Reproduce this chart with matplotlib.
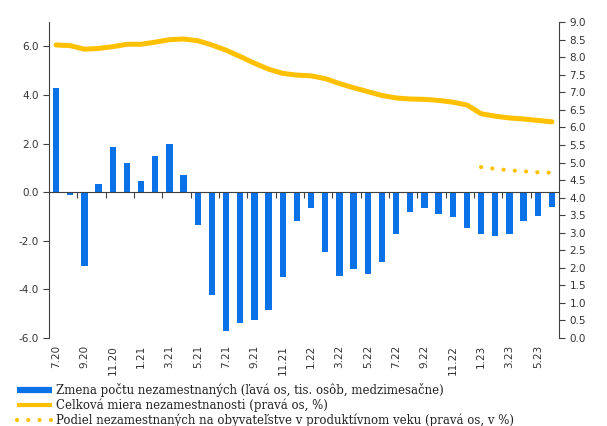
import numpy as np
import matplotlib
matplotlib.use("Agg")
import matplotlib.pyplot as plt
from matplotlib.lines import Line2D

months = ["7.20", "8.20", "9.20", "10.20", "11.20", "12.20",
          "1.21", "2.21", "3.21", "4.21", "5.21", "6.21",
          "7.21", "8.21", "9.21", "10.21", "11.21", "12.21",
          "1.22", "2.22", "3.22", "4.22", "5.22", "6.22",
          "7.22", "8.22", "9.22", "10.22", "11.22", "12.22",
          "1.23", "2.23", "3.23", "4.23", "5.23", "6.23"]

# zmena poctu nezamestnanych (tis. osob, medzimesacne) - lava os
zmena = [4.30, -0.12, -3.03, 0.34, 1.87, 1.20,
         0.46, 1.50, 1.99, 0.70, -1.35, -4.22,
         -5.72, -5.37, -5.26, -4.86, -3.51, -1.20,
         -0.67, -2.45, -3.43, -3.17, -3.37, -2.88,
         -1.73, -0.83, -0.67, -0.89, -1.01, -1.46,
         -1.73, -1.82, -1.73, -1.20, -0.97, -0.61]

# celkova miera nezamestnanosti (%) - prava os
miera = [8.35, 8.33, 8.23, 8.25, 8.30, 8.37,
         8.37, 8.43, 8.50, 8.52, 8.47, 8.35,
         8.20, 8.02, 7.83, 7.66, 7.54, 7.49,
         7.47, 7.39, 7.25, 7.13, 7.02, 6.91,
         6.84, 6.81, 6.80, 6.77, 6.72, 6.64,
         6.39, 6.32, 6.27, 6.24, 6.20, 6.16]

# podiel nezamestnanych na obyvatelstve v produktivnom veku (%) - od 1.23
podiel_start = 30
podiel = [4.87, 4.82, 4.78, 4.75, 4.72, 4.71]

BLUE = "#0A72E6"
YELLOW = "#FFC000"
GRAY = "#404040"

plt.rcParams["font.family"] = "DejaVu Sans"

fig = plt.figure(figsize=(6.07, 4.26), dpi=100)
ax = fig.add_axes([0.0807, 0.2066, 0.8403, 0.7414])
ax2 = ax.twinx()

x = np.arange(len(months))
ax.bar(x, zmena, width=0.45, color=BLUE, zorder=2)
ax2.plot(x, miera, color=YELLOW, lw=3.6, solid_capstyle="round", zorder=3)
xp = np.arange(podiel_start, podiel_start + len(podiel))
ax2.plot(xp, podiel, color=YELLOW, lw=3, dashes=(0.01, 2.7),
         dash_capstyle="round", zorder=3)

ax.set_xlim(-0.5, len(months) - 0.5)
ax.set_ylim(-6, 7)
ax.set_yticks(np.arange(-6, 7, 2))
ax.set_yticklabels([f"{v:.1f}" for v in np.arange(-6, 7, 2)])
ax2.set_ylim(0, 9)
ax2.set_yticks(np.arange(0, 9.01, 0.5))
ax2.set_yticklabels([f"{v:.1f}" for v in np.arange(0, 9.01, 0.5)])

# x os na nule, popisky dole
ax.spines["bottom"].set_position(("data", 0))
ax.set_xticks(np.arange(1.5, len(months) - 1, 2))
ax.tick_params(axis="x", labelbottom=False, length=4, color=GRAY, width=0.8)
for s in ["top", "right"]:
    ax.spines[s].set_visible(False)
for s in ["top", "bottom", "left"]:
    ax2.spines[s].set_visible(False)
for sp in [ax.spines["left"], ax.spines["bottom"], ax2.spines["right"]]:
    sp.set_color(GRAY)
    sp.set_linewidth(0.8)

ax.tick_params(axis="y", labelsize=7.5, labelcolor="#333333", color=GRAY,
               length=4, width=0.8)
ax2.tick_params(axis="y", labelsize=7.5, labelcolor="#333333", color=GRAY,
                length=4, width=0.8)

sec = ax.secondary_xaxis("bottom")
sec.set_xticks(x[::2])
sec.set_xticklabels(months[::2])
sec.tick_params(length=0, rotation=90, labelsize=7.5, labelcolor="#333333", pad=5)
sec.spines["bottom"].set_visible(False)

handles = [
    Line2D([], [], color=BLUE, lw=4.5, solid_capstyle="butt"),
    Line2D([], [], color=YELLOW, lw=3, solid_capstyle="butt"),
    Line2D([], [], color=YELLOW, lw=3, dashes=(0.01, 2.7), dash_capstyle="round"),
]
labels = [
    "Zmena počtu nezamestnaných (ľavá os, tis. osôb, medzimesačne)",
    "Celková miera nezamestnanosti (pravá os, %)",
    "Podiel nezamestnaných na obyvateľstve v produktívnom veku (pravá os, v %)",
]
fig.legend(handles, labels, loc="lower left", bbox_to_anchor=(0.02, -0.014),
           frameon=False, prop={"family": "DejaVu Serif", "size": 8.5},
           handlelength=3.0, handletextpad=0.3, labelspacing=0.12,
           borderaxespad=0, labelcolor="#222222")

fig.savefig("out.png", dpi=100)
